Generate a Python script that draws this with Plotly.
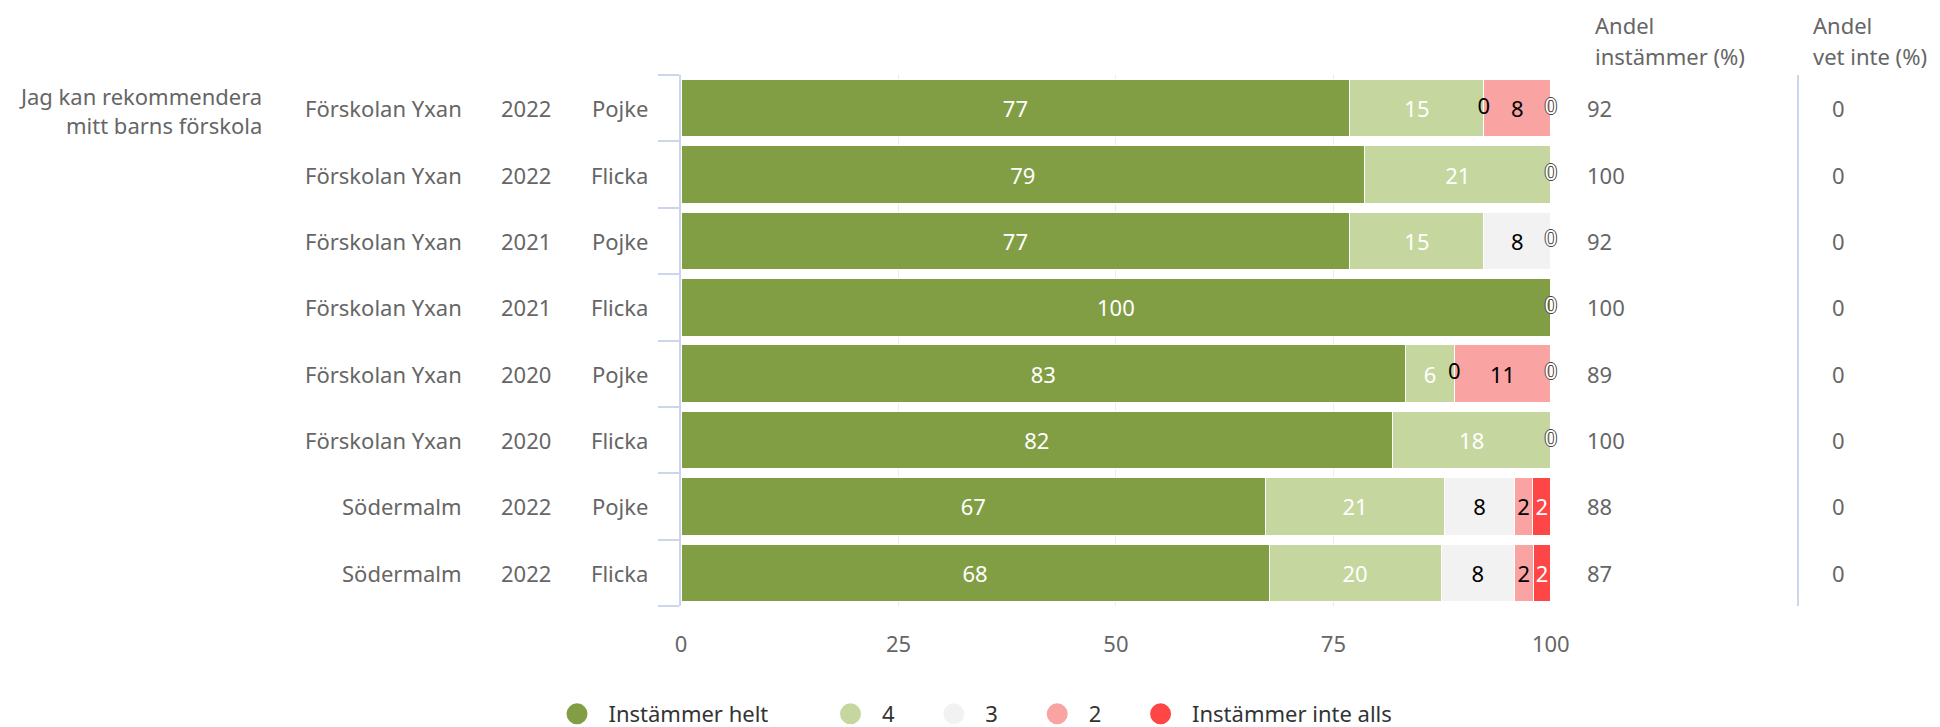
import plotly.graph_objects as go

# ---------------- data ----------------
schools = ["Förskolan Yxan"] * 6 + ["Södermalm"] * 2
years = ["2022", "2022", "2021", "2021", "2020", "2020", "2022", "2022"]
genders = ["Pojke", "Flicka", "Pojke", "Flicka", "Pojke", "Flicka", "Pojke", "Flicka"]
question_lines = ["Jag kan rekommendera", "mitt barns förskola"]

series_names = ["Instämmer helt", "4", "3", "2", "Instämmer inte alls"]
s5 = [76.9, 78.6, 76.9, 100.0, 83.3, 81.8, 67.2, 67.6]
s4 = [15.4, 21.4, 15.4, 0.0, 5.6, 18.2, 20.6, 19.8]
s3 = [0.0, 0.0, 7.7, 0.0, 0.0, 0.0, 8.0, 8.4]
s2 = [7.7, 0.0, 0.0, 0.0, 11.1, 0.0, 2.1, 2.2]
s1 = [0.0, 0.0, 0.0, 0.0, 0.0, 0.0, 2.1, 2.0]

andel_instammer = [92, 100, 92, 100, 89, 100, 88, 87]
andel_vet_inte = [0, 0, 0, 0, 0, 0, 0, 0]

header1 = ["Andel", "instämmer (%)"]
header2 = ["Andel", "vet inte (%)"]
x_ticks = [0, 25, 50, 75, 100]

# ---------------- styles ----------------
colors = ["#829e45", "#c5d79e", "#f2f2f2", "#f9a3a3", "#ff4646"]
label_colors = ["#ffffff", "#ffffff", "#000000", "#000000", "#ffffff"]
legend_pads = [10, 6, 6, 6, 0]
FONT = "Noto Sans"
FS = 22
GREY = "#666666"

OFF = 8  # page body margin offset
W, H = 1940 - OFF, 727 - OFF
# target page coordinates of plot area
PL, PR, PT, PB = 681, 1551, 75, 606
L, R, T, B = PL - OFF, W - (PR - OFF), PT - OFF, H - (PB - OFF)
PW = PR - PL
PH = PB - PT


def xp(px):
    """page x pixel -> paper fraction"""
    return (px - PL) / PW


def yp(py):
    """page y pixel -> paper fraction"""
    return (PB - py) / PH


series = [s5, s4, s3, s2, s1]
rows = list(range(len(schools)))

fig = go.Figure()

for name, vals, col, lcol in zip(series_names, series, colors, label_colors):
    fig.add_trace(go.Bar(
        y=rows, x=vals, orientation="h", name=name,
        marker=dict(color=col, line=dict(color="#ffffff", width=1)),
        texttemplate="%{x:.0f}", textposition="inside", insidetextanchor="middle",
        textangle=0, textfont=dict(family=FONT, size=FS, color=lcol),
        showlegend=False, hoverinfo="skip",
    ))

# zero-value labels (at cumulative positions; last series wins on overlap)
zero_pts = {}
for r in rows:
    cum = 0.0
    for si, vals in enumerate(series):
        if vals[r] == 0:
            zero_pts[(r, round(cum, 3))] = si
        cum += vals[r]
for si in range(len(series)):
    xs = [pos for (r, pos), s in zero_pts.items() if s == si]
    ys = [r for (r, pos), s in zero_pts.items() if s == si]
    if not xs:
        continue
    tf = dict(family=FONT, size=FS, color=label_colors[si])
    if label_colors[si] == "#ffffff":
        tf["shadow"] = "-1px 0 #444, 1px 0 #444, 0 -1px #444, 0 1px #444"
    fig.add_trace(go.Scatter(
        x=xs, y=ys, mode="text", text=["0"] * len(xs), textposition="middle center",
        textfont=tf, showlegend=False, hoverinfo="skip", cliponaxis=False,
    ))

# legend entries with circle symbols
for name, col, npad in zip(series_names, colors, legend_pads):
    fig.add_trace(go.Scatter(
        x=[None], y=[None], mode="markers",
        name="\u00a0\u00a0" + name + "\u00a0" * npad,
        marker=dict(color=col, size=22, symbol="circle", line=dict(color=col, width=5)),
    ))

ann = []


def add_text(x, y, text, xanchor, yref="y", color=GREY):
    ann.append(dict(x=x, y=y, xref="paper", yref=yref, text=text,
                    xanchor=xanchor, yanchor="middle", showarrow=False,
                    font=dict(family=FONT, size=FS, color=color)))


for r in rows:
    add_text(xp(464), r, schools[r], "right")
    add_text(xp(526), r, years[r], "center")
    add_text(xp(650), r, genders[r], "right")
    add_text(xp(1585), r, str(andel_instammer[r]), "left")
    add_text(xp(1838), r, str(andel_vet_inte[r]), "center")

for i, line in enumerate(question_lines):
    add_text(xp(264), yp(96 + 29 * i), line, "right", yref="paper")
for i, line in enumerate(header1):
    add_text(xp(1593), yp(25 + 31 * i), line, "left", yref="paper")
for i, line in enumerate(header2):
    add_text(xp(1811), yp(25 + 31 * i), line, "left", yref="paper")

shapes = [dict(type="line", xref="paper", yref="paper",
               x0=xp(1798), x1=xp(1798), y0=0, y1=1,
               line=dict(color="#ccd6eb", width=2))]

fig.update_layout(
    width=W, height=H,
    margin=dict(l=L, r=R, t=T, b=B, pad=0, autoexpand=False),
    paper_bgcolor="#ffffff", plot_bgcolor="#ffffff",
    barmode="stack", bargap=0.135,
    font=dict(family=FONT, size=FS, color=GREY),
    uniformtext=dict(minsize=FS, mode="show"),
    xaxis=dict(range=[0, 100.02], tickvals=x_ticks, showgrid=True, gridcolor="#ececec", gridwidth=1,
               zeroline=False, showline=False, ticks="outside", ticklen=19,
               tickcolor="rgba(0,0,0,0)", tickfont=dict(family=FONT, size=FS, color=GREY),
               fixedrange=True),
    yaxis=dict(range=[len(rows) - 0.5, -0.5], tickvals=[i - 0.5 for i in range(len(rows) + 1)],
               showticklabels=False, ticks="outside", ticklen=21, tickcolor="#ccd6eb", tickwidth=2,
               showline=True, linecolor="#ccd6eb", linewidth=2, showgrid=False, zeroline=False,
               fixedrange=True),
    legend=dict(orientation="h", xref="paper", yref="paper", x=xp(557), y=yp(714),
                xanchor="left", yanchor="middle", font=dict(family=FONT, size=FS, color="#333333"),
                itemclick=False, itemdoubleclick=False, traceorder="normal"),
    annotations=ann, shapes=shapes,
    showlegend=True,
)

fig.write_html("out.html")
